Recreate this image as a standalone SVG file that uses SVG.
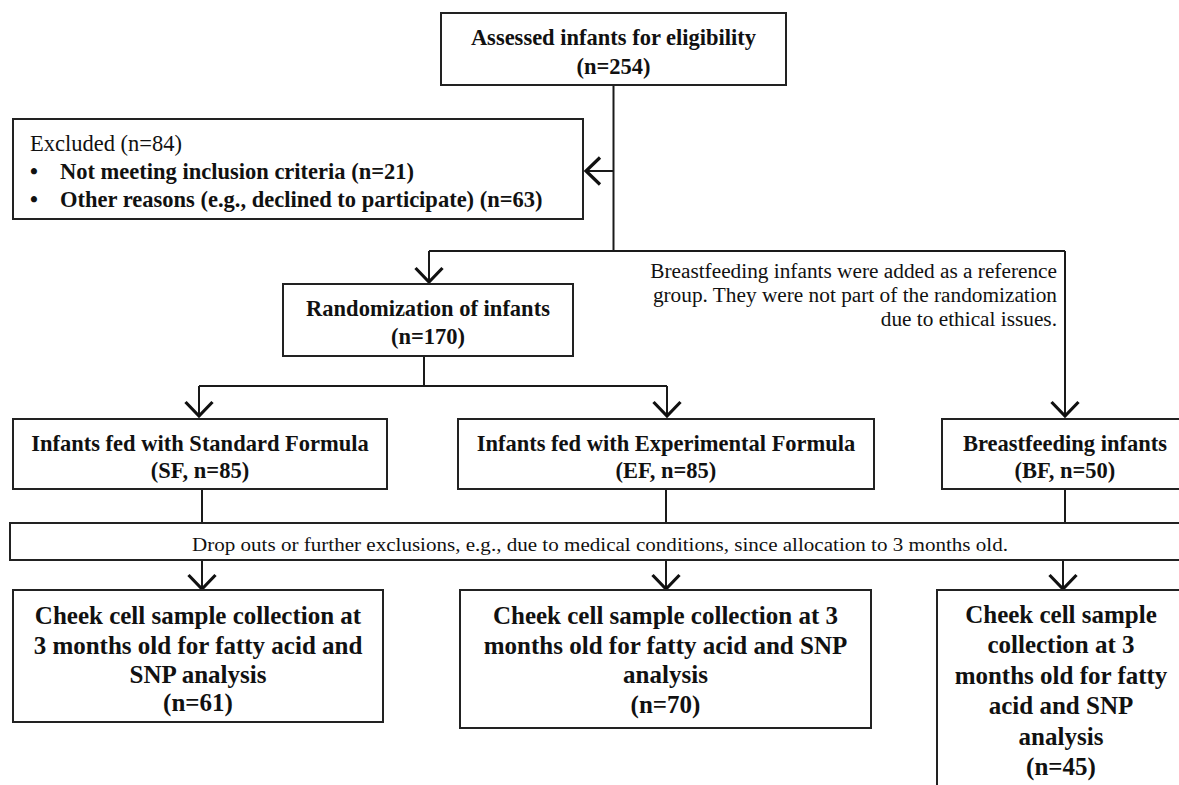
<svg xmlns="http://www.w3.org/2000/svg" width="1179" height="785" viewBox="0 0 1179 785">
<defs>
<style>
.box{fill:#fff;stroke:#222;stroke-width:2}
.ln{fill:none;stroke:#1a1a1a;stroke-width:2}
.t{font-family:"Liberation Serif","Times New Roman",serif;fill:#111}
.b{font-weight:bold;font-size:22.5px;text-anchor:middle}
.big{font-weight:bold;font-size:25px;text-anchor:middle}
.reg{font-size:22.5px}
.note{font-size:21.3px;text-anchor:end}
</style>
<marker id="arr" markerUnits="userSpaceOnUse" viewBox="0 0 20 30" markerWidth="20" markerHeight="30" refX="17" refY="15" orient="auto" overflow="visible">
<path d="M3,1.5 L17,15 L3,28.5" fill="none" stroke="#111" stroke-width="3.2" stroke-linejoin="miter"/>
</marker>
</defs>
<rect width="1179" height="785" fill="#fff"/>

<g id="connectors">
<path class="ln" d="M613.5,85 V251"/>
<path class="ln" d="M613.5,171 H586" marker-end="url(#arr)"/>
<path class="ln" d="M429,251 H1065"/>
<path class="ln" d="M429,251 V282" marker-end="url(#arr)"/>
<path class="ln" d="M1065,251 V416" marker-end="url(#arr)"/>
<path class="ln" d="M424,356 V386"/>
<path class="ln" d="M199,386 H667"/>
<path class="ln" d="M199,386 V416" marker-end="url(#arr)"/>
<path class="ln" d="M667,386 V416" marker-end="url(#arr)"/>
<path class="ln" d="M202,489 V523"/>
<path class="ln" d="M666,489 V523"/>
<path class="ln" d="M1065,489 V523"/>
<path class="ln" d="M202,560 V589" marker-end="url(#arr)"/>
<path class="ln" d="M666,560 V589" marker-end="url(#arr)"/>
<path class="ln" d="M1063,560 V589" marker-end="url(#arr)"/>
</g>

<g id="assessed">
<rect class="box" x="441" y="13" width="345" height="72"/>
<text class="t b" x="613.5" y="45" font-size="23">Assessed infants for eligibility</text>
<text class="t b" x="613.5" y="74">(n=254)</text>
</g>

<g id="excluded">
<rect class="box" x="13" y="119" width="570" height="100"/>
<text class="t reg" x="30" y="151">Excluded (n=84)</text>
<text class="t reg" x="30" y="179" font-weight="bold">•</text>
<text class="t reg" x="60" y="179" font-weight="bold">Not meeting inclusion criteria (n=21)</text>
<text class="t reg" x="30" y="207" font-weight="bold">•</text>
<text class="t reg" x="60" y="207" font-weight="bold">Other reasons (e.g., declined to participate) (n=63)</text>
</g>

<g id="note">
<text class="t note" x="1057" y="278">Breastfeeding infants were added as a reference</text>
<text class="t note" x="1057" y="302">group. They were not part of the randomization</text>
<text class="t note" x="1057" y="326">due to ethical issues.</text>
</g>

<g id="randomization">
<rect class="box" x="283" y="284" width="290" height="72"/>
<text class="t b" x="428" y="316">Randomization of infants</text>
<text class="t b" x="428" y="344">(n=170)</text>
</g>

<g id="sf">
<rect class="box" x="13" y="419" width="374" height="70"/>
<text class="t b" x="200" y="451">Infants fed with Standard Formula</text>
<text class="t b" x="200" y="478">(SF, n=85)</text>
</g>

<g id="ef">
<rect class="box" x="458" y="419" width="416" height="70"/>
<text class="t b" x="666" y="451">Infants fed with Experimental Formula</text>
<text class="t b" x="666" y="478">(EF, n=85)</text>
</g>

<g id="bf">
<rect class="box" x="942" y="419" width="250" height="70"/>
<text class="t b" x="1065" y="451">Breastfeeding infants</text>
<text class="t b" x="1065" y="478">(BF, n=50)</text>
</g>

<g id="dropouts">
<rect class="box" x="10" y="523" width="1185" height="37"/>
<text class="t" x="192" y="551" font-size="18.5" textLength="816" lengthAdjust="spacingAndGlyphs">Drop outs or further exclusions, e.g., due to medical conditions, since allocation to 3 months old.</text>
</g>

<g id="sf3">
<rect class="box" x="13" y="590" width="370" height="132"/>
<text class="t big" x="198" y="624">Cheek cell sample collection at</text>
<text class="t big" x="198" y="653.5">3 months old for fatty acid and</text>
<text class="t big" x="198" y="683">SNP analysis</text>
<text class="t big" x="198" y="711">(n=61)</text>
</g>

<g id="ef3">
<rect class="box" x="460" y="590" width="411" height="138"/>
<text class="t big" x="665.5" y="624">Cheek cell sample collection at 3</text>
<text class="t big" x="665.5" y="653.5">months old for fatty acid and SNP</text>
<text class="t big" x="665.5" y="683">analysis</text>
<text class="t big" x="665.5" y="712.5">(n=70)</text>
</g>

<g id="bf3">
<rect class="box" x="937" y="590" width="250" height="210"/>
<text class="t big" x="1061" y="623">Cheek cell sample</text>
<text class="t big" x="1061" y="653.4">collection at 3</text>
<text class="t big" x="1061" y="683.8">months old for fatty</text>
<text class="t big" x="1061" y="714.2">acid and SNP</text>
<text class="t big" x="1061" y="744.6">analysis</text>
<text class="t big" x="1061" y="775">(n=45)</text>
</g>
</svg>
